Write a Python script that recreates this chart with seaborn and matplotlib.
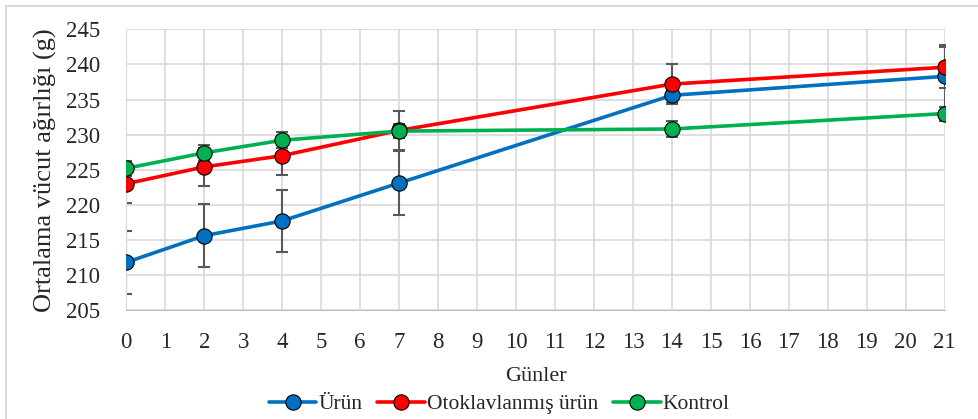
import numpy as np
import pandas as pd
import seaborn as sns
import matplotlib.pyplot as plt
from matplotlib.lines import Line2D
from matplotlib.patches import Rectangle

# days and mean body weight per group
gunler = [0, 2, 4, 7, 14, 21]
urun = [211.8, 215.6, 217.7, 223.1, 235.6, 238.3]
urun_err = [4.5, 4.5, 4.4, 4.5, 1.1, 4.4]
otoklav = [223.0, 225.4, 227.0, 230.6, 237.2, 239.6]
otoklav_err = [2.8, 2.7, 2.8, 2.8, 2.8, 2.9]
kontrol = [225.2, 227.4, 229.2, 230.5, 230.8, 233.0]
kontrol_err = [1.1, 1.1, 1.1, 1.0, 1.1, 1.0]

labels = ['Ürün', 'Otoklavlanmış ürün', 'Kontrol']
colors = ['#0070C0', '#FF0000', '#00B050']

df = pd.DataFrame({
    'Gun': gunler * 3,
    'Agirlik': urun + otoklav + kontrol,
    'Err': urun_err + otoklav_err + kontrol_err,
    'Grup': [labels[0]] * 6 + [labels[1]] * 6 + [labels[2]] * 6,
})

sns.set_style('white')
plt.rcParams['font.family'] = ['Liberation Serif', 'DejaVu Serif']

fig = plt.figure(figsize=(9.79, 4.19), dpi=100)
# chart border (only left/top edges are visible in the frame)
fig.patches.append(Rectangle((6 / 979, -0.1), 1.2, 1.1 - 6 / 419, transform=fig.transFigure,
                             fill=False, edgecolor='#d9d9d9', linewidth=1.5))
ax = fig.add_axes([0.129, 0.26, 0.836, 0.67])

for lab, col in zip(labels, colors):
    d = df[df['Grup'] == lab]
    ax.errorbar(d['Gun'], d['Agirlik'], yerr=d['Err'], fmt='none',
                ecolor='#595959', elinewidth=1.5, capsize=4, capthick=1.5, zorder=2)

sns.lineplot(data=df, x='Gun', y='Agirlik', hue='Grup', hue_order=labels,
             palette=colors, marker='o', markersize=11, markeredgecolor='black',
             markeredgewidth=0.8, linewidth=2.6, legend=False, ax=ax, zorder=3)

ax.set_xlim(0, 21)
ax.set_ylim(205, 245)
ax.set_xticks(range(0, 22))
ax.set_yticks(range(205, 246, 5))
ax.grid(True, color='#d9d9d9', linewidth=1.2)
ax.set_axisbelow(True)
for s in ['top', 'right']:
    ax.spines[s].set_visible(False)
ax.spines['left'].set_color('#d9d9d9')
ax.spines['bottom'].set_color('#bfbfbf')
ax.tick_params(axis='x', labelsize=16.5, length=0, pad=16)
ax.tick_params(axis='y', labelsize=16.5, length=0, pad=19)

ax.set_xlabel('Günler', fontsize=16, labelpad=10)
ax.set_ylabel('Ortalama vücut ağırlığı (g)', fontsize=19, labelpad=6)

handles = [Line2D([0], [0], color=c, lw=2.6, marker='o', markersize=11,
                  markeredgecolor='black', markeredgewidth=0.8) for c in colors]
fig.legend(handles, labels, loc='lower center', bbox_to_anchor=(0.51, -0.035),
           ncol=3, frameon=False, fontsize=15.5, handlelength=2.2,
           handletextpad=0.1, columnspacing=0.7)

fig.savefig('out.png', dpi=100)
